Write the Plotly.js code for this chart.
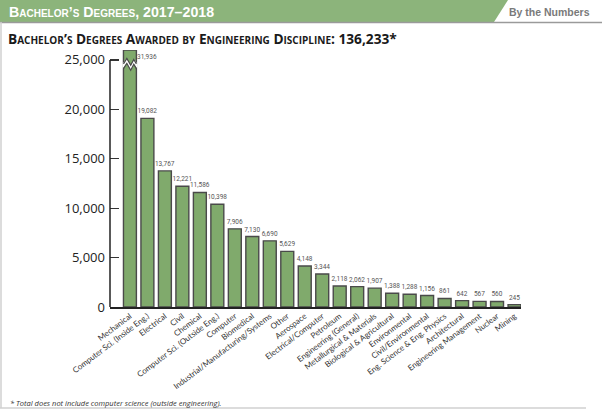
<!DOCTYPE html>
<html>
<head>
<meta charset="utf-8">
<script src="https://cdn.plot.ly/plotly-3.0.1.min.js"></script>
<style>
  html, body { margin: 0; padding: 0; background: #fff; }
  #myDiv { width: 602px; height: 410px; }
</style>
</head>
<body>
<div id="myDiv"></div>
<script>
// disciplines, in the order of the chart
let disciplines = ['Mechanical', 'Computer Sci. (Inside Eng.)', 'Electrical', 'Civil', 'Chemical',
  'Computer Sci. (Outside Eng.)', 'Computer', 'Biomedical', 'Industrial/Manufacturing/Systems',
  'Other', 'Aerospace', 'Electrical/Computer', 'Petroleum', 'Engineering (General)',
  'Metallurgical & Materials', 'Biological & Agricultural', 'Environmental', 'Civil/Environmental',
  'Eng. Science & Eng. Physics', 'Architectural', 'Engineering Management', 'Nuclear', 'Mining']

// degrees awarded (labels above the bars)
let degrees = [31936, 19082, 13767, 12221, 11586, 10398, 7906, 7130, 6690, 5629, 4148, 3344,
  2118, 2062, 1907, 1388, 1288, 1156, 861, 642, 567, 560, 245]

let yTicks = [0, 5000, 10000, 15000, 20000, 25000]

// the axis is broken above this value
let cap = 26000

// page layout in pixels
let W = 602, H = 410
let mL = 110, mR = 81, mT = 50, mB = 103
let plotW = W - mL - mR
let plotH = H - mT - mB

// pixel -> paper helpers for the page decoration
function px (x) { return (x - mL) / plotW }
function py (y) { return (H - mB - y) / plotH }

let shown = degrees.map(v => Math.min(v, cap))
let labels = degrees.map(v => v > cap ? '' : v.toLocaleString('en-US'))

let font = 'Open Sans, Liberation Sans, sans-serif'
let small = 'Roboto, Open Sans, sans-serif'

var trace = {
  x: disciplines,
  y: shown,
  type: 'bar',
  text: labels,
  textposition: 'outside',
  constraintext: 'none',
  cliponaxis: false,
  textfont: {family: small, size: 6.5, color: '#555'},
  marker: {color: '#80aa6c', line: {color: '#4a4a4a', width: 1.4}},
  hoverinfo: 'none'
}

// break mark across the tall bar
let zx = [-0.42, -0.2, 0.05, 0.25, 0.42]
let zy = [24600, 25150, 24450, 25050, 24600]
let gap = 500
function pathOf (pts) { return 'M' + pts.map(p => p[0] + ',' + p[1]).join(' L') }
let zTop = zx.map((x, i) => [x, zy[i]])
let zBot = zx.map((x, i) => [x, zy[i] - gap])
let band = pathOf(zTop.concat(zBot.slice().reverse())) + ' Z'

var shapes = [
  // header band
  {type: 'path', xref: 'paper', yref: 'paper', layer: 'below',
   path: pathOf([[px(0), py(0)], [px(508), py(0)], [px(494), py(22)], [px(0), py(22)]]) + ' Z',
   fillcolor: '#8cb47b', line: {width: 0}},
  {type: 'line', xref: 'paper', yref: 'paper', x0: px(0), x1: px(602), y0: py(22.5), y1: py(22.5),
   line: {color: '#9a9a9a', width: 1.5}},
  {type: 'line', xref: 'paper', yref: 'paper', x0: px(1), x1: px(1), y0: py(22), y1: py(408),
   line: {color: '#d0d0d0', width: 1.5}},
  {type: 'line', xref: 'paper', yref: 'paper', x0: px(0), x1: px(586), y0: py(408), y1: py(408),
   line: {color: '#d0d0d0', width: 1.5}},
  // y axis line, stops at 25,000
  {type: 'line', xref: 'paper', yref: 'y', x0: 0, x1: 0, y0: 0, y1: 25000,
   line: {color: '#222', width: 1.5}},
  // break
  {type: 'path', xref: 'x', yref: 'y', path: band, fillcolor: '#fff', line: {width: 0}},
  {type: 'path', xref: 'x', yref: 'y', path: pathOf(zTop.map(p => [p[0] * 0.88, p[1]])), line: {color: '#4a4a4a', width: 1.2}},
  {type: 'path', xref: 'x', yref: 'y', path: pathOf(zBot.map(p => [p[0] * 0.88, p[1]])), line: {color: '#4a4a4a', width: 1.2}}
]

var annotations = [
  {xref: 'paper', yref: 'paper', x: px(7), y: py(11.5), xanchor: 'left', yanchor: 'middle', showarrow: false,
   text: 'Bachelor’s Degrees, 2017–2018',
   font: {family: 'Liberation Sans, sans-serif', size: 14.2, color: '#fff', weight: 700, variant: 'small-caps'}},
  {xref: 'paper', yref: 'paper', x: px(549), y: py(12), xanchor: 'center', yanchor: 'middle', showarrow: false,
   text: 'By the Numbers',
   font: {family: 'Liberation Sans, sans-serif', size: 10.5, color: '#7a7a7a', weight: 700}},
  {xref: 'paper', yref: 'paper', x: px(6), y: py(39), xanchor: 'left', yanchor: 'middle', showarrow: false,
   text: 'Bachelor’s Degrees Awarded by Engineering Discipline: 136,233*',
   font: {family: font, size: 13.7, color: '#1a1a1a', weight: 700, variant: 'small-caps'}},
  {xref: 'paper', yref: 'paper', x: px(8), y: py(403), xanchor: 'left', yanchor: 'middle', showarrow: false,
   text: '<i>* Total does not include computer science (outside engineering).</i>',
   font: {family: font, size: 7.5, color: '#333'}},
  // label of the broken bar
  {xref: 'x', yref: 'y', x: disciplines[0], y: cap, xanchor: 'left', yanchor: 'top', xshift: 5, yshift: -0.5, showarrow: false,
   text: degrees[0].toLocaleString('en-US'), font: {family: small, size: 6.5, color: '#555'}}
]

var layout = {
  width: W,
  height: H,
  margin: {l: mL, r: mR, t: mT, b: mB, pad: 0},
  paper_bgcolor: '#fff',
  plot_bgcolor: '#fff',
  showlegend: false,
  bargap: 0.26,
  xaxis: {
    type: 'category',
    range: [-1.14, 22.37],
    tickangle: -37,
    tickfont: {family: 'Lato, Open Sans, sans-serif', size: 8, color: '#333'},
    ticks: '',
    showgrid: false,
    zeroline: false,
    showline: true,
    linecolor: '#222',
    linewidth: 1.5,
    fixedrange: true
  },
  yaxis: {
    range: [0, cap],
    tickvals: yTicks,
    ticktext: yTicks.map(v => v.toLocaleString('en-US')),
    ticks: 'inside',
    ticklen: 9,
    tickwidth: 1.3,
    tickcolor: '#333',
    ticklabelstandoff: 4,
    tickfont: {family: font, size: 13, color: '#222'},
    showgrid: false,
    zeroline: false,
    showline: false,
    fixedrange: true
  },
  shapes: shapes,
  annotations: annotations
}

Plotly.newPlot('myDiv', [trace], layout, {displayModeBar: false, staticPlot: true})
</script>
</body>
</html>
